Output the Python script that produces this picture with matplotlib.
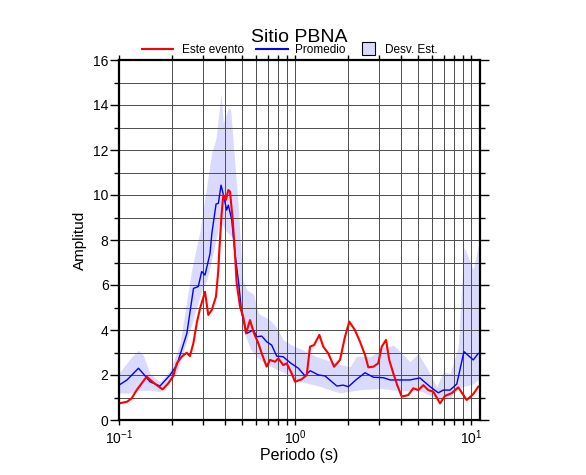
import matplotlib
matplotlib.use("Agg")
import matplotlib.pyplot as plt
import numpy as np
from matplotlib.lines import Line2D
from matplotlib.patches import Rectangle
from matplotlib.ticker import MultipleLocator, LogLocator, NullFormatter

plt.rcParams['font.family'] = ['Liberation Sans', 'DejaVu Sans']
plt.rcParams['mathtext.fontset'] = 'custom'
plt.rcParams['mathtext.rm'] = 'Liberation Sans'
plt.rcParams['mathtext.it'] = 'Liberation Sans'

# promedio (blue)
per_prom = [0.100, 0.111, 0.129, 0.137, 0.150, 0.171, 0.195, 0.213, 0.243, 0.265,
            0.282, 0.295, 0.308, 0.329, 0.337, 0.356, 0.367, 0.380, 0.392, 0.409,
            0.418, 0.437, 0.456, 0.480, 0.498, 0.532, 0.580, 0.606, 0.647, 0.690,
            0.737, 0.787, 0.858, 0.937, 1.045, 1.14, 1.22, 1.36, 1.48, 1.73,
            1.88, 2.01, 2.24, 2.50, 2.79, 3.18, 3.47, 3.95, 4.50, 5.13,
            5.85, 6.52, 6.96, 7.60, 8.30, 9.12, 10.3, 11.0]
amp_prom = [1.55, 1.78, 2.30, 2.07, 1.70, 1.51, 2.00, 2.44, 3.85, 5.85,
            5.93, 6.60, 6.44, 7.40, 8.30, 9.60, 9.63, 10.44, 10.0, 9.33,
            9.55, 8.90, 7.40, 6.00, 4.74, 3.85, 4.00, 3.70, 3.73, 3.48,
            3.33, 2.84, 2.81, 2.55, 2.30, 1.96, 2.19, 2.00, 1.96, 1.51,
            1.55, 1.48, 1.81, 2.10, 1.90, 1.88, 1.78, 1.78, 1.78, 1.87,
            1.48, 1.21, 1.33, 1.33, 1.60, 3.04, 2.67, 2.96]

# este evento (red)
per_evt = [0.100, 0.111, 0.118, 0.126, 0.1346, 0.1437, 0.1534, 0.1637, 0.177, 0.1906,
           0.2035, 0.213, 0.227, 0.2425, 0.253, 0.2645, 0.2764, 0.2887, 0.308, 0.3216,
           0.3365, 0.3557, 0.3667, 0.3713, 0.383, 0.3915, 0.405, 0.418, 0.4273, 0.4426,
           0.456, 0.466, 0.487, 0.508, 0.527, 0.555, 0.585, 0.619, 0.647, 0.690,
           0.721, 0.770, 0.804, 0.858, 0.897, 0.958, 1.0, 1.092, 1.166, 1.217,
           1.282, 1.375, 1.448, 1.546, 1.666, 1.802, 1.923, 2.034, 2.19, 2.34,
           2.50, 2.61, 2.79, 2.97, 3.11, 3.29, 3.43, 3.62, 3.81, 4.04,
           4.40, 4.70, 5.02, 5.36, 5.72, 6.11, 6.67, 7.11, 7.76, 8.47,
           9.45, 10.3, 11.0]
amp_evt = [0.74, 0.81, 0.96, 1.33, 1.63, 1.93, 1.73, 1.55, 1.36, 1.63,
           1.96, 2.52, 2.81, 2.99, 2.84, 3.41, 4.30, 4.96, 5.70, 4.67,
           4.89, 5.48, 6.67, 7.48, 9.19, 10.0, 9.78, 10.22, 10.15, 8.90,
           7.40, 6.10, 5.04, 4.59, 3.85, 4.44, 3.85, 3.41, 2.96, 2.37,
           2.67, 2.59, 2.74, 2.44, 2.52, 2.07, 1.70, 1.81, 2.00, 3.26,
           3.33, 3.78, 3.26, 2.96, 2.37, 2.67, 3.70, 4.37, 4.00, 3.48,
           2.89, 2.34, 2.37, 2.52, 3.26, 3.56, 2.67, 2.07, 1.55, 1.04,
           1.11, 1.41, 1.33, 1.55, 1.33, 1.26, 0.74, 1.07, 1.19, 1.45,
           0.89, 1.15, 1.48]

# desviacion estandar band
per_up = [0.100, 0.118, 0.129, 0.137, 0.150, 0.171, 0.195, 0.222, 0.253, 0.259,
          0.2887, 0.3365, 0.3557, 0.380, 0.3915, 0.418, 0.431, 0.450, 0.476, 0.505,
          0.532, 0.580, 0.620, 0.721, 0.787, 0.858, 0.958, 1.115, 1.33, 1.725,
          2.05, 2.24, 2.67, 3.18, 3.62, 3.95, 4.50, 5.02, 5.72, 6.38,
          6.96, 7.60, 8.47, 9.12, 10.3, 11.0]
amp_up = [2.10, 2.80, 3.10, 2.90, 2.07, 1.70, 2.20, 3.40, 6.20, 6.70,
          8.40, 11.9, 12.5, 14.5, 13.2, 13.85, 13.8, 11.9, 9.50, 6.20,
          5.78, 5.60, 4.74, 4.44, 4.10, 3.56, 3.33, 3.10, 2.81, 2.52,
          2.37, 2.84, 2.81, 3.19, 3.33, 3.04, 2.59, 2.96, 2.20, 1.48,
          2.15, 2.07, 3.26, 7.70, 6.67, 7.78]
per_lo = [0.100, 0.118, 0.129, 0.150, 0.171, 0.195, 0.213, 0.227, 0.253, 0.276,
          0.297, 0.315, 0.343, 0.375, 0.400, 0.437, 0.466, 0.480, 0.508, 0.555,
          0.606, 0.675, 0.822, 1.09, 1.375, 1.80, 2.34, 3.11, 3.95, 5.13,
          6.67, 7.60, 8.47, 9.12, 10.3, 11.0]
amp_lo = [1.19, 1.20, 1.30, 1.33, 1.25, 1.70, 2.10, 2.80, 4.00, 5.00,
          5.80, 6.20, 7.40, 8.90, 8.44, 8.15, 6.80, 5.50, 4.00, 3.20,
          2.80, 2.50, 2.20, 1.70, 1.50, 1.20, 1.35, 1.40, 1.30, 1.30,
          0.90, 0.95, 1.40, 1.50, 1.60, 1.80]

band_color = '#dadaff'

fig = plt.figure(figsize=(5.86, 4.75), dpi=100)
ax = fig.add_axes([119/586, 1-420/475, 361/586, 360/475])

# band on a common log grid
pgrid = np.logspace(np.log10(0.1), np.log10(11.0), 600)
up = np.interp(np.log10(pgrid), np.log10(per_up), amp_up)
lo = np.interp(np.log10(pgrid), np.log10(per_lo), amp_lo)
ax.fill_between(pgrid, lo, up, color=band_color, lw=0, zorder=1)

ax.plot(per_prom, amp_prom, color='#0000ff', lw=1.0, zorder=3)
ax.plot(per_evt, amp_evt, color='#ff0000', lw=1.5, zorder=4)

ax.set_xscale('log')
ax.set_xlim(0.1, 11.25)
ax.set_ylim(0, 16)
ax.yaxis.set_major_locator(MultipleLocator(2))
ax.yaxis.set_minor_locator(MultipleLocator(1))
ax.xaxis.set_major_locator(LogLocator(base=10))
ax.xaxis.set_minor_locator(LogLocator(base=10, subs=np.arange(2, 10)))
ax.xaxis.set_minor_formatter(NullFormatter())

ax.set_axisbelow(False)
ax.grid(which='both', color='0.3', lw=0.7, zorder=2)

ax.tick_params(which='both', direction='out', top=True, right=True,
               labelsize=10, width=1.0, color='black')
ax.tick_params(axis='y', which='major', length=6.5, pad=1)
ax.tick_params(axis='y', which='minor', length=3.5)
ax.tick_params(axis='x', which='both', length=3.6, pad=2.5)
for s in ax.spines.values():
    s.set_linewidth(1.6)
    s.set_zorder(5)

# title and axis labels placed in figure coords
fig.text(299.5/586, 1-41.5/475, 'Sitio PBNA', fontsize=14, ha='center', va='baseline')
fig.text(299.5/586, 1-460/475, 'Periodo (s)', fontsize=11.5, ha='center', va='baseline')
fig.text(80/586, 1-240/475, 'Amplitud', fontsize=11, ha='center', va='center',
         rotation=90)

# legend across the top
ly = 1 - 49/475
lb = 1 - 53/475
fig.add_artist(Line2D([142/586, 173/586], [ly, ly], color='#ff0000', lw=1.5))
fig.text(182/586, lb, 'Este evento', fontsize=8.5, va='baseline')
fig.add_artist(Line2D([256/586, 288/586], [ly, ly], color='#0000ff', lw=1.5))
fig.text(295/586, lb, 'Promedio', fontsize=8.5, va='baseline')
fig.add_artist(Rectangle((362/586, 1-55/475), 13/586, 13/475,
                         facecolor=band_color, edgecolor='black', lw=0.8))
fig.text(385/586, lb, 'Desv. Est.', fontsize=8.5, va='baseline')

fig.savefig('out.png', dpi=100)
